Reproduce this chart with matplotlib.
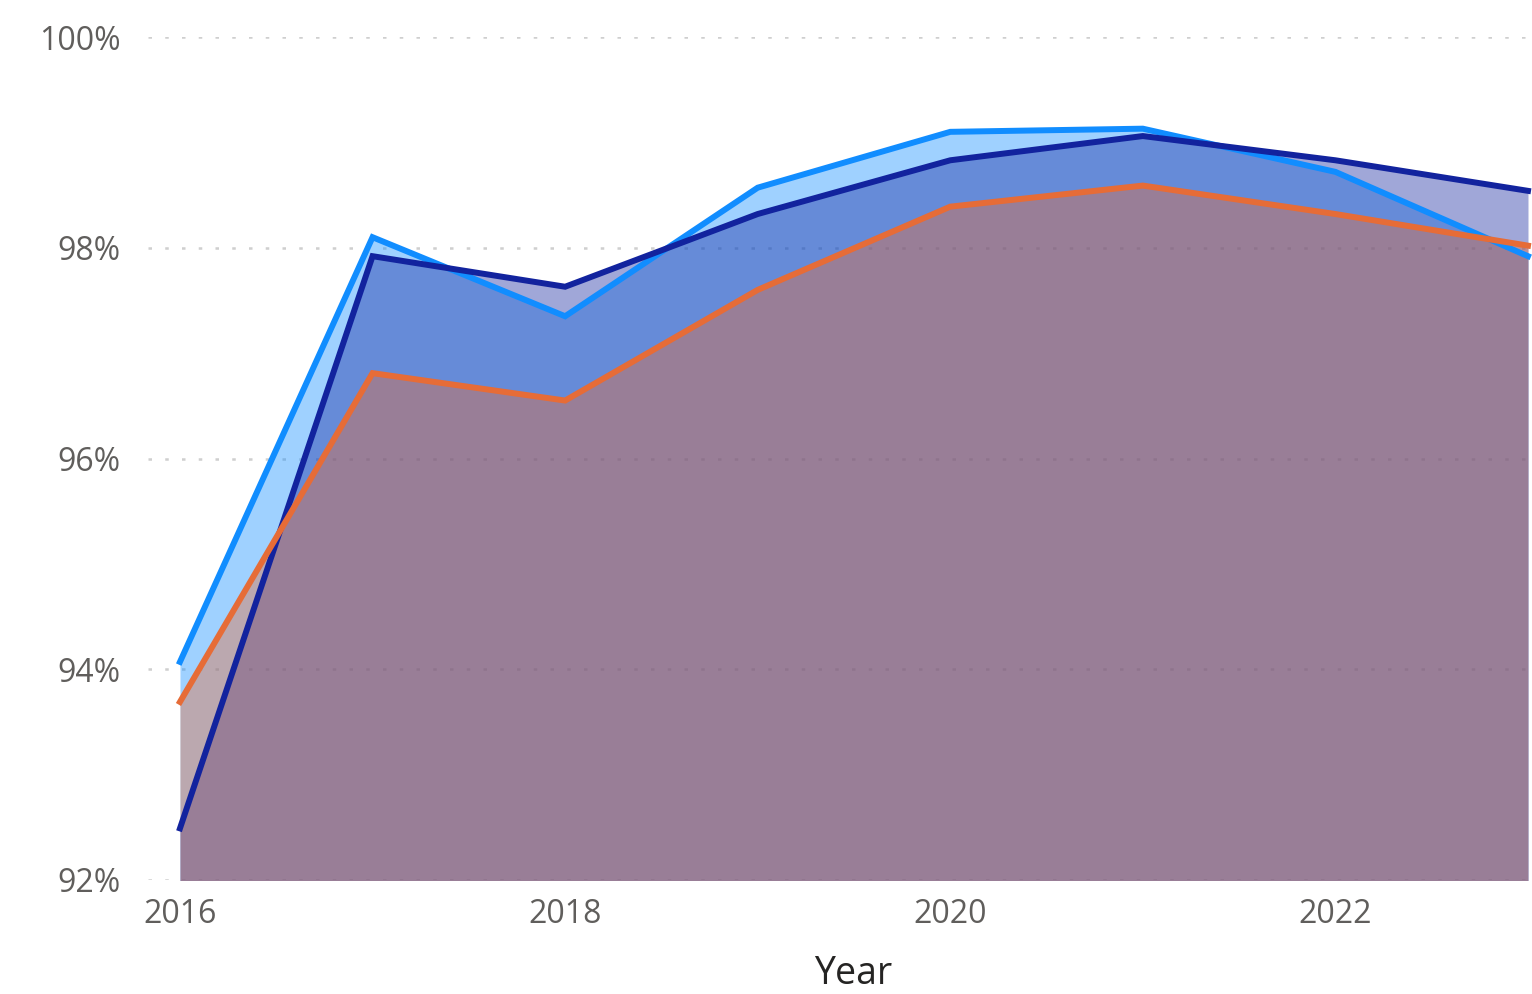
import matplotlib
matplotlib.use("Agg")
import matplotlib.pyplot as plt
from matplotlib.ticker import FuncFormatter

years = [2016, 2017, 2018, 2019, 2020, 2021, 2022, 2023]
series_light = [94.07, 98.10, 97.35, 98.57, 99.10, 99.13, 98.72, 97.92]
series_navy = [92.49, 97.92, 97.63, 98.32, 98.83, 99.06, 98.83, 98.54]
series_orange = [93.69, 96.81, 96.55, 97.60, 98.39, 98.59, 98.32, 98.02]
y_ticks = [92, 94, 96, 98, 100]
x_ticks = [2016, 2018, 2020, 2022]
x_label = "Year"

colors = ["#118DFF", "#12239E", "#E66C37"]
tick_font = ["Open Sans", "DejaVu Sans"]

fig = plt.figure(figsize=(15.32, 9.94), dpi=100)
ax = fig.add_axes([148 / 1532, 1 - 880 / 994, (1528 - 148) / 1532, (880 - 37) / 994])

ymin, ymax = 92, 100
ax.set_ylim(ymin, ymax)
ax.set_xlim(2016 - 0.166, 2023)

for vals, c in zip([series_light, series_navy, series_orange], colors):
    ax.fill_between(years, vals, ymin - 1, color=c, alpha=0.4, linewidth=0, zorder=2)
for vals, c in zip([series_light, series_navy, series_orange], colors):
    ax.plot(years, vals, color=c, linewidth=4.3, solid_joinstyle="miter", zorder=3,
            clip_on=False)

ax.set_yticks(y_ticks)
ax.set_xticks(x_ticks)
ax.yaxis.set_major_formatter(FuncFormatter(lambda v, p: f"{int(v)}%"))
ax.grid(axis="y", color="#CFCFCF", linestyle=(0, (1.4, 5.3)), linewidth=1.8, zorder=1)
ax.grid(axis="x", visible=False)
for s in ax.spines.values():
    s.set_visible(False)
ax.tick_params(axis="both", length=0, labelcolor="#605E5C", labelsize=23)
ax.tick_params(axis="y", pad=20)
ax.tick_params(axis="x", pad=13)
for lab in ax.get_xticklabels() + ax.get_yticklabels():
    lab.set_fontfamily(tick_font)

fig.text(853 / 1532, 1 - 974 / 994, x_label, ha="center", va="center",
         fontsize=27, color="#252423", family=tick_font)

fig.savefig("out.png", dpi=100, facecolor="white")
